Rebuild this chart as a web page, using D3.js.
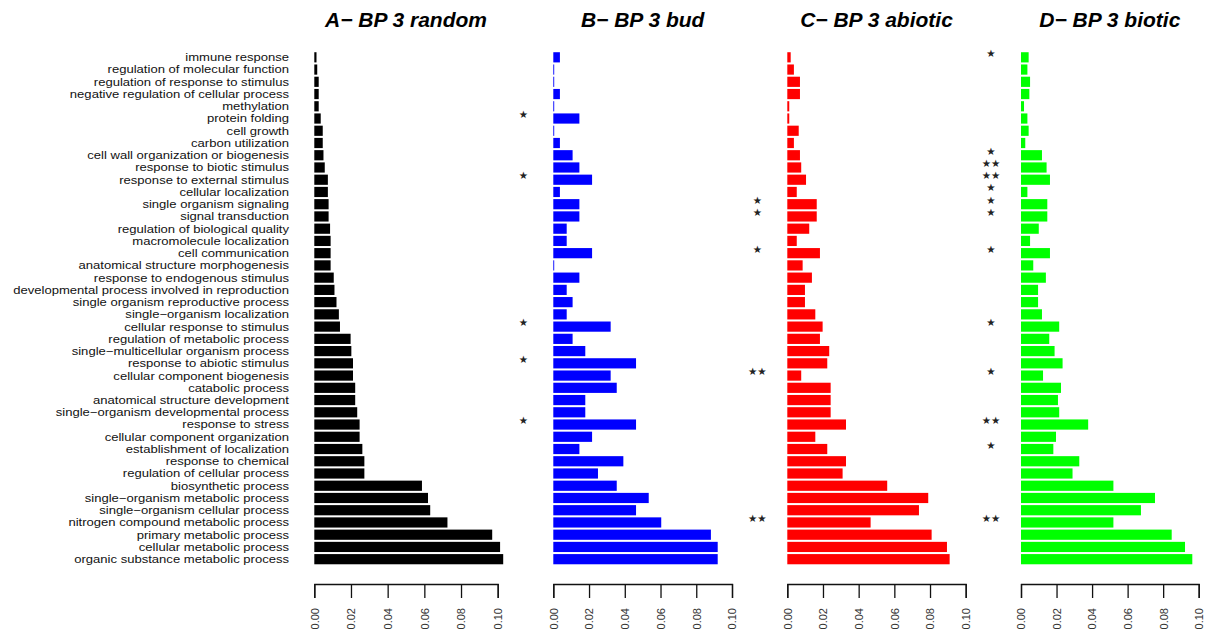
<!DOCTYPE html>
<html>
<head>
<meta charset="utf-8">
<script src="https://cdn.jsdelivr.net/npm/d3@7"></script>
<style>
  body { margin: 0; background: #fff; }
  svg { display: block; font-family: "Liberation Sans", Arial, Helvetica, sans-serif; }
  .label { font-size: 10.9px; fill: #111; }
  .title { font-size: 21px; font-weight: bold; font-style: italic; fill: #000; }
  .star { font-family: "DejaVu Sans", sans-serif; font-size: 10.4px; fill: #222; }
  .axis path, .axis line { stroke: #111; stroke-width: 1.3; }
  .axis text { font-size: 11px; fill: #333; }
</style>
</head>
<body>
<svg width="1209" height="634"></svg>
<script>
const categories = [
  "immune response", "regulation of molecular function", "regulation of response to stimulus",
  "negative regulation of cellular process", "methylation", "protein folding", "cell growth",
  "carbon utilization", "cell wall organization or biogenesis", "response to biotic stimulus",
  "response to external stimulus", "cellular localization", "single organism signaling",
  "signal transduction", "regulation of biological quality", "macromolecule localization",
  "cell communication", "anatomical structure morphogenesis", "response to endogenous stimulus",
  "developmental process involved in reproduction", "single organism reproductive process",
  "single\u2212organism localization", "cellular response to stimulus", "regulation of metabolic process",
  "single\u2212multicellular organism process", "response to abiotic stimulus", "cellular component biogenesis",
  "catabolic process", "anatomical structure development", "single\u2212organism developmental process",
  "response to stress", "cellular component organization", "establishment of localization",
  "response to chemical", "regulation of cellular process", "biosynthetic process",
  "single\u2212organism metabolic process", "single\u2212organism cellular process",
  "nitrogen compound metabolic process", "primary metabolic process", "cellular metabolic process",
  "organic substance metabolic process"
];

const randomVals = [0.0012, 0.0016, 0.0024, 0.0024, 0.0024, 0.0035, 0.0046, 0.0046, 0.005, 0.0057,
  0.0074, 0.0074, 0.0078, 0.0078, 0.0086, 0.0089, 0.0089, 0.0089, 0.0106, 0.011, 0.0121, 0.0134,
  0.014, 0.0198, 0.0202, 0.0211, 0.0211, 0.0223, 0.0223, 0.0234, 0.0247, 0.0247, 0.0262, 0.0273,
  0.0273, 0.0587, 0.062, 0.0632, 0.0726, 0.097, 0.1013, 0.103];

const budVals = [0.0037, 0.0005, 0.0005, 0.0037, 0.0005, 0.0146, 0.0005, 0.0037, 0.0108, 0.0146,
  0.0217, 0.0037, 0.0146, 0.0146, 0.0075, 0.0075, 0.0217, 0.0005, 0.0146, 0.0075, 0.0108, 0.0075,
  0.0321, 0.0108, 0.0179, 0.0463, 0.0321, 0.0355, 0.0179, 0.0179, 0.0463, 0.0217, 0.0146, 0.0392,
  0.025, 0.0355, 0.0534, 0.0463, 0.0604, 0.0882, 0.092, 0.092];

const abioticVals = [0.0019, 0.0037, 0.0071, 0.0071, 0.0011, 0.0011, 0.0064, 0.0037, 0.0071, 0.0078,
  0.0105, 0.0053, 0.0165, 0.0165, 0.0123, 0.0053, 0.0183, 0.0086, 0.0138, 0.0099, 0.0099, 0.0157,
  0.0198, 0.0183, 0.0235, 0.0224, 0.0078, 0.0243, 0.0243, 0.0243, 0.0329, 0.0157, 0.0224, 0.0329,
  0.031, 0.056, 0.079, 0.0738, 0.0467, 0.0809, 0.0895, 0.091];

const bioticVals = [0.0043, 0.0036, 0.0051, 0.0047, 0.0017, 0.0036, 0.0043, 0.0024, 0.0118, 0.0144,
  0.0163, 0.0036, 0.0148, 0.0148, 0.01, 0.0051, 0.0163, 0.0069, 0.014, 0.0096, 0.0096, 0.0118,
  0.0215, 0.0159, 0.0189, 0.0234, 0.0124, 0.0225, 0.0208, 0.0215, 0.0378, 0.0197, 0.0182, 0.0328,
  0.029, 0.052, 0.0754, 0.0675, 0.052, 0.0848, 0.0923, 0.0964];

// significance marks, one per category
const randomStars = Array(42).fill("");
const budStars = ["", "", "", "", "", "★", "", "", "", "", "★", "", "", "", "", "", "", "", "", "", "",
  "", "★", "", "", "★", "", "", "", "", "★", "", "", "", "", "", "", "", "", "", "", ""];
const abioticStars = ["", "", "", "", "", "", "", "", "", "", "", "", "★", "★", "", "", "★", "", "", "", "",
  "", "", "", "", "", "★★", "", "", "", "", "", "", "", "", "", "", "", "★★", "", "", ""];
const bioticStars = ["★", "", "", "", "", "", "", "", "★", "★★", "★★", "★", "★", "★", "", "", "★", "", "", "", "",
  "", "★", "", "", "", "★", "", "", "", "★★", "", "★", "", "", "", "", "", "★★", "", "", ""];

const panelTitles = ["A\u2212 BP 3 random", "B\u2212 BP 3 bud", "C\u2212 BP 3 abiotic", "D\u2212 BP 3 biotic"];
const panelColors = ["#000000", "#0000ff", "#ff0000", "#00ff00"];
const tickVals = [0, 0.02, 0.04, 0.06, 0.08, 0.10];

const panels = [
  { title: panelTitles[0], color: panelColors[0], values: randomVals, stars: randomStars, x0: 314.3, x1: 497.7 },
  { title: panelTitles[1], color: panelColors[1], values: budVals, stars: budStars, x0: 553.3, x1: 732 },
  { title: panelTitles[2], color: panelColors[2], values: abioticVals, stars: abioticStars, x0: 787.3, x1: 965.7 },
  { title: panelTitles[3], color: panelColors[3], values: bioticVals, stars: bioticStars, x0: 1021, x1: 1198.7 }
];

const svg = d3.select("svg");
const axisY = 584;

const yScale = d3.scaleBand()
    .domain(categories)
    .range([51.2, 565.3])
    .paddingInner(0.1667)
    .paddingOuter(0.0833);

// category labels (slightly widened so they keep the reference width without overlapping)
svg.append("g")
    .selectAll("text")
    .data(categories)
    .join("text")
    .attr("class", "label")
    .attr("transform", d => `translate(289,${yScale(d) + yScale.bandwidth() / 2}) scale(1.2,1)`)
    .attr("dy", "0.36em")
    .attr("text-anchor", "end")
    .text(d => d);

panels.forEach(p => {
    const xScale = d3.scaleLinear().domain([0, 0.1]).range([p.x0, p.x1]);
    const g = svg.append("g");

    g.selectAll("rect")
        .data(categories)
        .join("rect")
        .attr("x", xScale(0))
        .attr("y", d => yScale(d))
        .attr("width", (d, i) => xScale(p.values[i]) - xScale(0))
        .attr("height", yScale.bandwidth())
        .attr("fill", p.color);

    g.selectAll("text.star")
        .data(categories.filter((d, i) => p.stars[i]))
        .join("text")
        .attr("class", "star")
        .attr("x", xScale(0) - 30)
        .attr("y", d => yScale(d) + yScale.bandwidth() / 2 - 0.5)
        .attr("text-anchor", "middle")
        .text(d => p.stars[categories.indexOf(d)]);

    svg.append("text")
        .attr("class", "title")
        .attr("x", (p.x0 + p.x1) / 2)
        .attr("y", 27)
        .attr("text-anchor", "middle")
        .text(p.title);

    const axis = svg.append("g")
        .attr("class", "axis")
        .attr("transform", `translate(0,${axisY})`)
        .call(d3.axisBottom(xScale)
            .tickValues(tickVals)
            .tickFormat(d3.format(".2f"))
            .tickSize(14)
            .tickSizeOuter(14));

    axis.selectAll(".tick text")
        .attr("transform", "rotate(-90)")
        .attr("x", -24)
        .attr("y", 0)
        .attr("dy", "0.35em")
        .attr("text-anchor", "end");
});
</script>
</body>
</html>
